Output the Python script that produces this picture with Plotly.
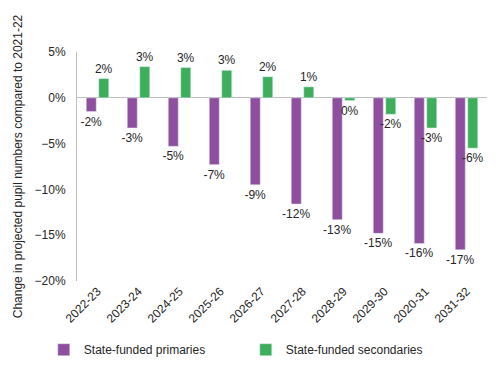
import plotly.graph_objects as go

categories = ["2022-23", "2023-24", "2024-25", "2025-26", "2026-27",
              "2027-28", "2028-29", "2029-30", "2020-31", "2031-32"]
primaries = [-1.5, -3.3, -5.3, -7.3, -9.5, -11.6, -13.3, -14.8, -15.9, -16.6]
secondaries = [2.1, 3.4, 3.3, 3.0, 2.3, 1.2, -0.3, -1.8, -3.3, -5.5]
primaries_labels = ["-2%", "-3%", "-5%", "-7%", "-9%", "-12%", "-13%", "-15%", "-16%", "-17%"]
secondaries_labels = ["2%", "3%", "3%", "3%", "2%", "1%", "0%", "-2%", "-3%", "-6%"]

font = "Arial, Liberation Sans, sans-serif"
txt = "#262626"

fig = go.Figure()
fig.add_trace(go.Bar(x=categories, y=primaries, name="State-funded primaries",
                     marker_color="#8E4F9E", text=primaries_labels,
                     textposition="outside", cliponaxis=False, constraintext="none",
                     textfont=dict(family=font, size=12, color=txt)))
fig.add_trace(go.Bar(x=categories, y=secondaries, name="State-funded secondaries",
                     marker_color="#3DAE5B", text=secondaries_labels,
                     textposition="outside", cliponaxis=False, constraintext="none",
                     textfont=dict(family=font, size=12, color=txt)))

fig.update_layout(
    width=500, height=370,
    margin=dict(l=77, r=13, t=52, b=89, autoexpand=False),
    paper_bgcolor="white", plot_bgcolor="white",
    barmode="group", bargap=0.39, bargroupgap=0.2,
    font=dict(family=font, size=12, color=txt),
    showlegend=True,
    legend=dict(orientation="h", x=-0.081, xanchor="left", y=-0.30, yanchor="middle",
                entrywidth=157, font=dict(size=12, color=txt),
                itemwidth=30, tracegroupgap=0),
    uniformtext=dict(minsize=12, mode="show"),
)
fig.update_xaxes(showgrid=False, showline=False, ticks="", tickangle=-45,
                 tickfont=dict(size=12, color=txt))
fig.update_yaxes(range=[-20, 5], dtick=5, ticksuffix="%", showgrid=False,
                 showline=True, linecolor="#BFBFBF", linewidth=1,
                 zeroline=True, zerolinecolor="#BFBFBF", zerolinewidth=1,
                 ticks="", ticklabelstandoff=8,
                 tickfont=dict(size=12, color=txt),
                 title=dict(text="Change in projected pupil numbers compared to 2021-22",
                            font=dict(size=12, color=txt), standoff=9))

fig.write_html("out.html", config={"displayModeBar": False},
               post_script="document.body.style.margin='0';")
